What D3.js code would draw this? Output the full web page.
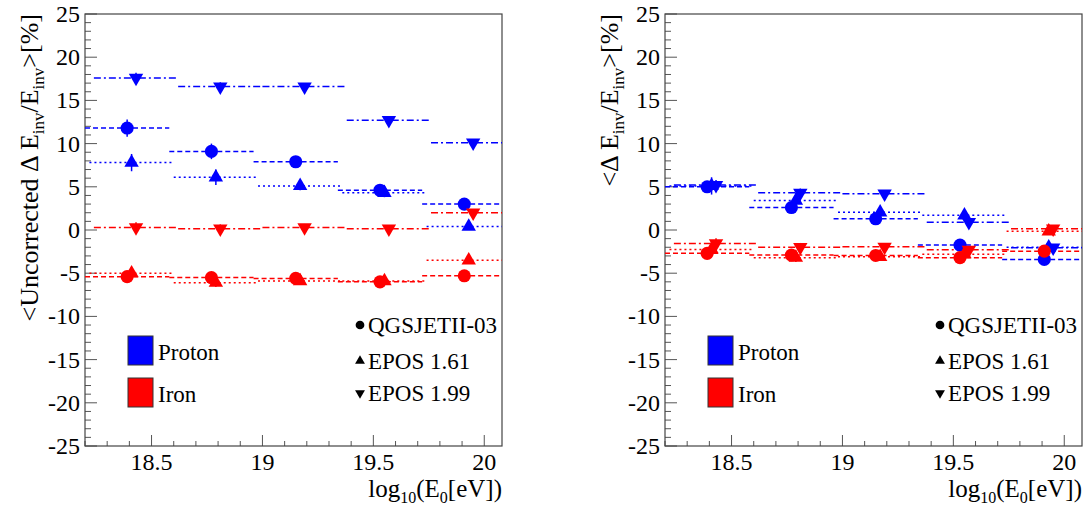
<!DOCTYPE html>
<html>
<head>
<meta charset="utf-8">
<script src="https://cdn.jsdelivr.net/npm/d3@7"></script>
<style>
  body { margin: 0; background: #fff; }
</style>
</head>
<body>
<div class="chart"></div>
<script>
// bin centres (slightly shifted per model) and half width of the horizontal bars
const xQGS = [18.39, 18.77, 19.15, 19.53, 19.91]
const xE161 = [18.41, 18.79, 19.17, 19.55, 19.93]
const xE199 = [18.43, 18.81, 19.19, 19.57, 19.95]
const binHalf = 0.19

// left panel: uncorrected
const pQGS_L = [11.8, 9.1, 7.9, 4.6, 3.0]
const pE161_L = [7.8, 6.1, 5.1, 4.3, 0.4]
const pE199_L = [17.6, 16.6, 16.6, 12.7, 10.1]
const fQGS_L = [-5.4, -5.5, -5.6, -6.0, -5.3]
const fE161_L = [-5.0, -6.1, -5.9, -5.9, -3.5]
const fE199_L = [0.3, 0.15, 0.3, 0.15, 2.0]

// right panel: corrected
const pQGS_R = [5.0, 2.6, 1.3, -1.75, -3.4]
const pE161_R = [5.1, 3.4, 2.05, 1.7, -2.0]
const pE199_R = [5.2, 4.3, 4.2, 0.9, -2.05]
const fQGS_R = [-2.7, -2.9, -2.95, -3.2, -2.45]
const fE161_R = [-2.25, -3.2, -3.1, -2.8, -0.15]
const fE199_R = [-1.55, -2.0, -1.95, -2.3, 0.15]

// vertical errors
const errBig = [1.0, 0.9, 0.5, 0.5, 0.4]
const errSmall = [0.6, 0.5, 0.4, 0.4, 0.4]

const yTicks = [-25, -20, -15, -10, -5, 0, 5, 10, 15, 20, 25]
const xTicks = [18.5, 19, 19.5, 20]

const models = ["QGSJETII-03", "EPOS 1.61", "EPOS 1.99"]
const primaries = ["Proton", "Iron"]

const blue = "#0000ff", red = "#ff0000"

const width = 1086
const height = 508

const svg = d3.select(".chart")
    .append("svg")
    .attr("width", width)
    .attr("height", height)
    .attr("font-family", "'Liberation Serif', 'DejaVu Serif', serif")

const y = d3.scaleLinear().domain([-25, 25]).range([446, 14])

function series(xs, vals, errs, color, shape, dash) {
    return xs.map((x, i) => ({ x: x, v: vals[i], e: errs[i], color, shape, dash }))
}

function symbolPath(shape, big) {
    if (shape == "circle") return d3.symbol(d3.symbolCircle, big ? 135 : 60)()
    return d3.symbol(d3.symbolTriangle, big ? 90 : 42)()
}

function drawPanel(ox, data, title) {
    const x0 = 85 + ox, x1 = 502 + ox
    const x = d3.scaleLinear().domain([18.2, 20.08]).range([x0, x1])
    const g = svg.append("g")

    const clipId = "clip" + ox
    svg.append("clipPath").attr("id", clipId)
        .append("rect").attr("x", x0).attr("y", 14).attr("width", x1 - x0).attr("height", 432)

    // y axis ticks
    const yMinor = d3.range(-25, 26, 1)
    g.append("g").selectAll("line")
        .data(yMinor)
        .join("line")
        .attr("x1", x0).attr("x2", d => x0 + (d % 5 == 0 ? 12 : 6))
        .attr("y1", d => y(d)).attr("y2", d => y(d))
        .attr("stroke", "#555").attr("stroke-width", 1)

    g.append("g").selectAll("text")
        .data(yTicks)
        .join("text")
        .attr("x", x0 - 5)
        .attr("y", d => y(d) + 8)
        .attr("text-anchor", "end")
        .attr("font-size", 24)
        .text(d => d)

    // x axis ticks
    const xMinor = d3.range(182, 201, 1).map(d => d / 10)
    g.append("g").selectAll("line")
        .data(xMinor)
        .join("line")
        .attr("x1", d => x(d)).attr("x2", d => x(d))
        .attr("y1", 446).attr("y2", d => 446 - (Math.round(d * 10) % 5 == 0 ? 11 : 5))
        .attr("stroke", "#555").attr("stroke-width", 1)

    g.append("g").selectAll("text")
        .data(xTicks)
        .join("text")
        .attr("x", d => x(d))
        .attr("y", 470)
        .attr("text-anchor", "middle")
        .attr("font-size", 24)
        .text(d => d)

    // frame
    g.append("rect")
        .attr("x", x0).attr("y", 14)
        .attr("width", x1 - x0).attr("height", 432)
        .attr("fill", "none").attr("stroke", "#444").attr("stroke-width", 1.2)

    // x title
    const xt = g.append("text")
        .attr("x", x1).attr("y", 497)
        .attr("text-anchor", "end")
        .attr("font-size", 25)
    xt.append("tspan").text("log")
    xt.append("tspan").attr("font-size", 16).attr("dy", 6).text("10")
    xt.append("tspan").attr("dy", -6).text("(E")
    xt.append("tspan").attr("font-size", 16).attr("dy", 6).text("0")
    xt.append("tspan").attr("dy", -6).text("[eV])")

    // y title
    const yt = g.append("text")
        .attr("transform", `translate(${ox + 38},14) rotate(-90)`)
        .attr("text-anchor", "end")
        .attr("font-size", 26)
    yt.append("tspan").text(title + "\u0394 E")
    yt.append("tspan").attr("font-size", 17).attr("dy", 6).text("inv")
    yt.append("tspan").attr("dy", -6).text("/E")
    yt.append("tspan").attr("font-size", 17).attr("dy", 6).text("inv")
    yt.append("tspan").attr("dy", -6).text(">[%]")

    // data
    const pts = g.append("g").attr("clip-path", `url(#${clipId})`)

    pts.selectAll("line.h")
        .data(data)
        .join("line")
        .attr("class", "h")
        .attr("x1", d => x(d.x - binHalf)).attr("x2", d => x(d.x + binHalf))
        .attr("y1", d => y(d.v)).attr("y2", d => y(d.v))
        .attr("stroke", d => d.color).attr("stroke-width", 1.5)
        .attr("stroke-dasharray", d => d.dash)

    pts.selectAll("line.v")
        .data(data)
        .join("line")
        .attr("class", "v")
        .attr("x1", d => x(d.x)).attr("x2", d => x(d.x))
        .attr("y1", d => y(d.v - d.e)).attr("y2", d => y(d.v + d.e))
        .attr("stroke", d => d.color).attr("stroke-width", 1.5)

    pts.selectAll("path")
        .data(data)
        .join("path")
        .attr("d", d => symbolPath(d.shape, true))
        .attr("transform", d => `translate(${x(d.x)},${y(d.v)})` + (d.shape == "down" ? " rotate(180)" : ""))
        .attr("fill", d => d.color)

    // legend: primaries
    const leg = g.append("g")
    leg.selectAll("rect")
        .data(primaries)
        .join("rect")
        .attr("x", 128 + ox).attr("y", (d, i) => 336 + i * 42)
        .attr("width", 25).attr("height", 29)
        .attr("fill", (d, i) => i == 0 ? blue : red)
        .attr("stroke", "#333").attr("stroke-width", 1)
    leg.selectAll("text")
        .data(primaries)
        .join("text")
        .attr("x", 158 + ox).attr("y", (d, i) => 360 + i * 42)
        .attr("font-size", 23)
        .text(d => d)

    // legend: models
    const shapes = ["circle", "up", "down"]
    const legY = [325, 361, 393]
    const leg2 = g.append("g")
    leg2.selectAll("path")
        .data(models)
        .join("path")
        .attr("d", (d, i) => symbolPath(shapes[i], false))
        .attr("transform", (d, i) => `translate(${360 + ox},${legY[i]})` + (i == 2 ? " rotate(180)" : ""))
        .attr("fill", "#000")
    leg2.selectAll("text")
        .data(models)
        .join("text")
        .attr("x", 368 + ox).attr("y", (d, i) => legY[i] + 8)
        .attr("font-size", 23)
        .text(d => d)
}

const dashQ = "5,3"
const dashE161 = "2,3"
const dashE199 = "7,3,2,3"

const leftData = [].concat(
    series(xQGS, pQGS_L, errBig, blue, "circle", dashQ),
    series(xE161, pE161_L, errBig, blue, "up", dashE161),
    series(xE199, pE199_L, errSmall, blue, "down", dashE199),
    series(xQGS, fQGS_L, errSmall, red, "circle", dashQ),
    series(xE161, fE161_L, errSmall, red, "up", dashE161),
    series(xE199, fE199_L, errSmall, red, "down", dashE199)
)

const rightData = [].concat(
    series(xQGS, pQGS_R, errSmall, blue, "circle", dashQ),
    series(xE161, pE161_R, errBig, blue, "up", dashE161),
    series(xE199, pE199_R, errSmall, blue, "down", dashE199),
    series(xQGS, fQGS_R, errSmall, red, "circle", dashQ),
    series(xE161, fE161_R, errSmall, red, "up", dashE161),
    series(xE199, fE199_R, errSmall, red, "down", dashE199)
)

drawPanel(0, leftData, "<Uncorrected ")
drawPanel(580, rightData, "<")
</script>
</body>
</html>
